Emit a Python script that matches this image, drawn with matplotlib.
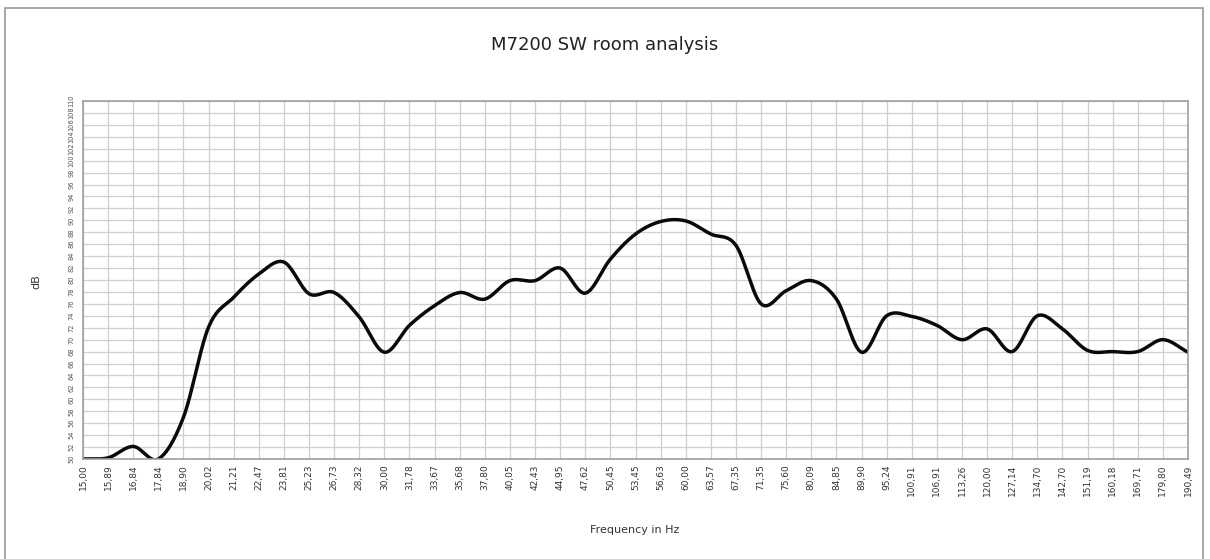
import numpy as np
import matplotlib.pyplot as plt
from matplotlib.patches import Rectangle

# 1/12-octave frequency bands (category axis)
freq_labels = ['15,00', '15,89', '16,84', '17,84', '18,90', '20,02', '21,21', '22,47',
               '23,81', '25,23', '26,73', '28,32', '30,00', '31,78', '33,67', '35,68',
               '37,80', '40,05', '42,43', '44,95', '47,62', '50,45', '53,45', '56,63',
               '60,00', '63,57', '67,35', '71,35', '75,60', '80,09', '84,85', '89,90',
               '95,24', '100,91', '106,91', '113,26', '120,00', '127,14', '134,70',
               '142,70', '151,19', '160,18', '169,71', '179,80', '190,49']

# measured level per band
level_db = [50.0, 50.2, 52.1, 50.0, 57.0, 72.1, 77.1, 81.0, 83.0, 77.7, 77.9, 73.8,
            67.9, 72.4, 75.7, 77.9, 76.8, 79.9, 79.9, 82.0, 77.8, 83.5, 87.7, 89.8,
            89.9, 87.7, 85.8, 76.0, 78.2, 79.9, 76.8, 67.9, 74.0, 73.9, 72.4, 70.0,
            71.8, 68.0, 74.0, 71.8, 68.2, 68.0, 68.0, 70.0, 67.9]

y_ticks = list(range(50, 112, 2))


def smooth(y, steps=20):
    # Catmull-Rom through the points, like a spreadsheet "smoothed line"
    y = np.asarray(y, float)
    p = np.concatenate([[2 * y[0] - y[1]], y, [2 * y[-1] - y[-2]]])
    xs, ys = [], []
    t = np.linspace(0, 1, steps, endpoint=False)
    for i in range(len(y) - 1):
        p0, p1, p2, p3 = p[i], p[i + 1], p[i + 2], p[i + 3]
        seg = 0.5 * ((2 * p1) + (-p0 + p2) * t + (2 * p0 - 5 * p1 + 4 * p2 - p3) * t ** 2
                     + (-p0 + 3 * p1 - 3 * p2 + p3) * t ** 3)
        xs.append(i + t)
        ys.append(seg)
    xs.append([len(y) - 1])
    ys.append([y[-1]])
    return np.concatenate(xs), np.concatenate(ys)


fig = plt.figure(figsize=(12.1, 5.59), dpi=100)
W, H = 1210, 559
ax = fig.add_axes([83 / W, 1 - 459 / H, (1188 - 83) / W, (459 - 101) / H])

# thin frame around the whole chart
fig.patches.append(Rectangle((5 / W, -0.1), 1198 / W, 1.1 - 8 / H, transform=fig.transFigure,
                             fill=False, edgecolor='#9a9a9a', linewidth=1.2))

x = np.arange(len(freq_labels))
sx, sy = smooth(level_db)
ax.plot(sx, sy, color='#0a0a0a', linewidth=2.5, solid_capstyle='round')

ax.set_xlim(0, len(freq_labels) - 1)
ax.set_ylim(y_ticks[0], y_ticks[-1])
ax.set_xticks(x)
ax.set_xticklabels(freq_labels, rotation=90, fontsize=6.5, color='#333333')
ax.set_yticks(y_ticks)
ax.set_yticklabels([str(v) for v in y_ticks], rotation=90, fontsize=4.8, color='#555555',
                   va='center')
ax.tick_params(length=0, pad=4)
ax.tick_params(axis='y', pad=6)
ax.grid(True, color='#cfcfcf', linewidth=0.9)
ax.set_axisbelow(True)
for s in ax.spines.values():
    s.set_color('#a0a0a0')
    s.set_linewidth(1.2)

fig.text(0.5, 1 - 45 / H, 'M7200 SW room analysis', ha='center', va='center',
         fontsize=13, color='#222222')
fig.text(635 / W, 1 - 530 / H, 'Frequency in Hz', ha='center', va='center',
         fontsize=8, color='#333333')
fig.text(36 / W, 1 - 282 / H, 'dB', ha='center', va='center', rotation=90,
         fontsize=8, color='#333333')

fig.savefig('out.png', dpi=100)
